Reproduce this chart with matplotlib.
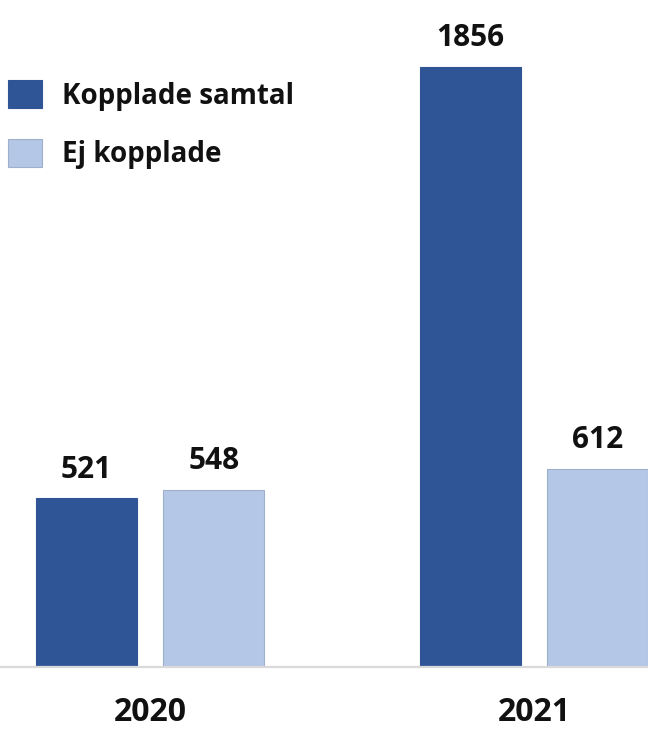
import matplotlib
matplotlib.use("Agg")
import matplotlib.pyplot as plt
import numpy as np

years = ["2020", "2021"]
series_names = ["Kopplade samtal", "Ej kopplade"]
kopplade = [521, 1856]
ej_kopplade = [548, 612]

colors = ["#2F5597", "#B4C7E7"]
edges = ["#2F5597", "#9FB0CC"]

plt.rcParams['font.family'] = ['Open Sans', 'DejaVu Sans']

W, H = 648, 731
dpi = 100
fig = plt.figure(figsize=(W / dpi, H / dpi), dpi=dpi)
base_px = 667
ax = fig.add_axes([0, (H - base_px) / H, 1, base_px / H])

x = np.arange(len(years))
bw = 0.263
off = 0.166
b1 = ax.bar(x - off, kopplade, bw, color=colors[0], edgecolor=edges[0], linewidth=0.8, label=series_names[0])
b2 = ax.bar(x + off, ej_kopplade, bw, color=colors[1], edgecolor=edges[1], linewidth=0.8, label=series_names[1])

ax.set_xlim(-150 / 384, (648 - 150) / 384)
ax.set_ylim(0, 667 / 0.3235)

for bars in (b1, b2):
    for r in bars:
        ax.annotate(f"{int(r.get_height())}", (r.get_x() + r.get_width() / 2, r.get_height()),
                    xytext=(0, 10), textcoords="offset points", ha="center", va="bottom",
                    fontsize=21.5, fontweight="bold", color="#111111")

for s in ["top", "right", "left"]:
    ax.spines[s].set_visible(False)
ax.spines["bottom"].set_color("#D9D9D9")
ax.spines["bottom"].set_linewidth(1.6)
ax.set_yticks([])
ax.set_xticks(x)
ax.set_xticklabels(years, fontsize=23, fontweight="bold", color="#111111")
ax.tick_params(axis="x", length=0, pad=21)

leg = ax.legend(loc="upper left", bbox_to_anchor=(0.0, (667 - 72) / 667), frameon=False,
                fontsize=20, handlelength=1.22, handleheight=1.18, handletextpad=0.7,
                labelspacing=1.0, borderaxespad=0, borderpad=0.3)
for t in leg.get_texts():
    t.set_fontweight("bold")
    t.set_color("#111111")

fig.savefig("out.png", dpi=dpi)
